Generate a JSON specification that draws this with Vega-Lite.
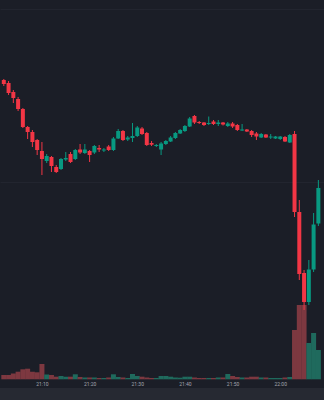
{
  "$schema": "https://vega.github.io/schema/vega-lite/v6.json",
  "width": 324,
  "height": 388,
  "autosize": {"type": "none"},
  "padding": {"left": 0, "right": 0, "top": 0, "bottom": 12},
  "background": "#262932",
  "config": {"view": {"fill": "#1b1e27", "stroke": null}, "font": "Roboto"},
  "data": {"values": [
    {"t": "2024-01-05T21:02:00", "o": 42.0, "h": 42.1, "l": 41.4, "c": 41.6, "v": 4300},
    {"t": "2024-01-05T21:03:00", "o": 41.7, "h": 41.9, "l": 40.5, "c": 40.7, "v": 4300},
    {"t": "2024-01-05T21:04:00", "o": 40.8, "h": 41.0, "l": 39.7, "c": 40.2, "v": 5800},
    {"t": "2024-01-05T21:05:00", "o": 40.1, "h": 40.3, "l": 38.9, "c": 39.1, "v": 7600},
    {"t": "2024-01-05T21:06:00", "o": 39.1, "h": 39.2, "l": 37.2, "c": 37.3, "v": 10000},
    {"t": "2024-01-05T21:07:00", "o": 37.3, "h": 37.4, "l": 36.1, "c": 36.8, "v": 10600},
    {"t": "2024-01-05T21:08:00", "o": 36.8, "h": 37.0, "l": 35.3, "c": 35.8, "v": 7600},
    {"t": "2024-01-05T21:09:00", "o": 36.0, "h": 36.1, "l": 34.5, "c": 35.0, "v": 7000},
    {"t": "2024-01-05T21:10:00", "o": 34.9, "h": 35.8, "l": 32.5, "c": 34.1, "v": 15300},
    {"t": "2024-01-05T21:11:00", "o": 33.9, "h": 34.6, "l": 33.7, "c": 34.4, "v": 4800},
    {"t": "2024-01-05T21:12:00", "o": 34.3, "h": 34.4, "l": 32.8, "c": 33.4, "v": 4300},
    {"t": "2024-01-05T21:13:00", "o": 33.3, "h": 33.5, "l": 32.7, "c": 32.8, "v": 2600},
    {"t": "2024-01-05T21:14:00", "o": 33.1, "h": 34.2, "l": 33.0, "c": 34.1, "v": 3300},
    {"t": "2024-01-05T21:15:00", "o": 34.05, "h": 34.8, "l": 33.9, "c": 34.2, "v": 2600},
    {"t": "2024-01-05T21:16:00", "o": 34.6, "h": 34.8, "l": 33.7, "c": 33.8, "v": 2600},
    {"t": "2024-01-05T21:17:00", "o": 34.1, "h": 35.1, "l": 34.0, "c": 35.0, "v": 5000},
    {"t": "2024-01-05T21:18:00", "o": 35.05, "h": 35.6, "l": 34.6, "c": 34.75, "v": 2300},
    {"t": "2024-01-05T21:19:00", "o": 34.7, "h": 35.6, "l": 34.6, "c": 35.05, "v": 1800},
    {"t": "2024-01-05T21:20:00", "o": 34.9, "h": 35.0, "l": 33.8, "c": 34.5, "v": 1800},
    {"t": "2024-01-05T21:21:00", "o": 34.75, "h": 35.5, "l": 34.6, "c": 35.4, "v": 1800},
    {"t": "2024-01-05T21:22:00", "o": 35.2, "h": 35.5, "l": 34.8, "c": 35.05, "v": 1300},
    {"t": "2024-01-05T21:23:00", "o": 34.95, "h": 35.2, "l": 34.8, "c": 35.05, "v": 1300},
    {"t": "2024-01-05T21:24:00", "o": 35.35, "h": 35.5, "l": 34.9, "c": 35.0, "v": 1800},
    {"t": "2024-01-05T21:25:00", "o": 35.0, "h": 36.3, "l": 34.9, "c": 36.15, "v": 5000},
    {"t": "2024-01-05T21:26:00", "o": 36.15, "h": 37.1, "l": 36.1, "c": 36.9, "v": 2300},
    {"t": "2024-01-05T21:27:00", "o": 36.9, "h": 37.0, "l": 35.9, "c": 36.0, "v": 1800},
    {"t": "2024-01-05T21:28:00", "o": 36.05, "h": 36.4, "l": 35.9, "c": 36.25, "v": 1300},
    {"t": "2024-01-05T21:29:00", "o": 36.2, "h": 37.7, "l": 35.8, "c": 36.4, "v": 5300},
    {"t": "2024-01-05T21:30:00", "o": 36.4, "h": 37.4, "l": 36.3, "c": 37.25, "v": 3300},
    {"t": "2024-01-05T21:31:00", "o": 37.15, "h": 37.3, "l": 36.5, "c": 36.6, "v": 2600},
    {"t": "2024-01-05T21:32:00", "o": 36.7, "h": 36.8, "l": 35.4, "c": 35.5, "v": 1800},
    {"t": "2024-01-05T21:33:00", "o": 35.7, "h": 35.9, "l": 35.4, "c": 35.53, "v": 1300},
    {"t": "2024-01-05T21:34:00", "o": 35.4, "h": 35.6, "l": 35.3, "c": 35.5, "v": 1300},
    {"t": "2024-01-05T21:35:00", "o": 35.05, "h": 35.8, "l": 34.5, "c": 35.65, "v": 3300},
    {"t": "2024-01-05T21:36:00", "o": 35.6, "h": 36.0, "l": 35.5, "c": 35.9, "v": 3300},
    {"t": "2024-01-05T21:37:00", "o": 35.85, "h": 36.4, "l": 35.8, "c": 36.25, "v": 2600},
    {"t": "2024-01-05T21:38:00", "o": 36.2, "h": 36.8, "l": 36.1, "c": 36.7, "v": 1800},
    {"t": "2024-01-05T21:39:00", "o": 36.65, "h": 37.1, "l": 36.6, "c": 37.0, "v": 1600},
    {"t": "2024-01-05T21:40:00", "o": 36.9, "h": 37.5, "l": 36.8, "c": 37.4, "v": 2600},
    {"t": "2024-01-05T21:41:00", "o": 37.35, "h": 38.3, "l": 37.3, "c": 38.15, "v": 2600},
    {"t": "2024-01-05T21:42:00", "o": 38.4, "h": 38.5, "l": 37.6, "c": 37.75, "v": 1800},
    {"t": "2024-01-05T21:43:00", "o": 37.8, "h": 37.9, "l": 37.6, "c": 37.7, "v": 1300},
    {"t": "2024-01-05T21:44:00", "o": 37.75, "h": 37.8, "l": 37.4, "c": 37.5, "v": 1300},
    {"t": "2024-01-05T21:45:00", "o": 37.6, "h": 38.35, "l": 37.5, "c": 37.7, "v": 1300},
    {"t": "2024-01-05T21:46:00", "o": 37.85, "h": 38.0, "l": 37.5, "c": 37.6, "v": 1300},
    {"t": "2024-01-05T21:47:00", "o": 37.6, "h": 38.0, "l": 37.4, "c": 37.75, "v": 1800},
    {"t": "2024-01-05T21:48:00", "o": 37.75, "h": 37.8, "l": 37.45, "c": 37.55, "v": 1800},
    {"t": "2024-01-05T21:49:00", "o": 37.4, "h": 37.8, "l": 37.3, "c": 37.65, "v": 5300},
    {"t": "2024-01-05T21:50:00", "o": 37.65, "h": 37.8, "l": 37.2, "c": 37.35, "v": 3300},
    {"t": "2024-01-05T21:51:00", "o": 37.5, "h": 37.6, "l": 36.9, "c": 37.0, "v": 2300},
    {"t": "2024-01-05T21:52:00", "o": 36.95, "h": 37.6, "l": 36.9, "c": 37.05, "v": 1800},
    {"t": "2024-01-05T21:53:00", "o": 37.05, "h": 37.1, "l": 36.8, "c": 36.85, "v": 1800},
    {"t": "2024-01-05T21:54:00", "o": 36.9, "h": 37.0, "l": 36.3, "c": 36.5, "v": 2600},
    {"t": "2024-01-05T21:55:00", "o": 36.65, "h": 36.8, "l": 36.0, "c": 36.35, "v": 2600},
    {"t": "2024-01-05T21:56:00", "o": 36.25, "h": 36.7, "l": 36.2, "c": 36.6, "v": 1800},
    {"t": "2024-01-05T21:57:00", "o": 36.55, "h": 36.6, "l": 36.2, "c": 36.25, "v": 1800},
    {"t": "2024-01-05T21:58:00", "o": 36.25, "h": 36.6, "l": 36.1, "c": 36.35, "v": 1300},
    {"t": "2024-01-05T21:59:00", "o": 36.15, "h": 36.4, "l": 36.1, "c": 36.35, "v": 1300},
    {"t": "2024-01-05T22:00:00", "o": 36.1, "h": 36.4, "l": 36.0, "c": 36.35, "v": 1300},
    {"t": "2024-01-05T22:01:00", "o": 36.3, "h": 36.4, "l": 35.8, "c": 35.85, "v": 1800},
    {"t": "2024-01-05T22:02:00", "o": 35.75, "h": 36.6, "l": 35.7, "c": 36.5, "v": 2300},
    {"t": "2024-01-05T22:03:00", "o": 36.6, "h": 36.9, "l": 28.3, "c": 28.8, "v": 49300},
    {"t": "2024-01-05T22:04:00", "o": 28.8, "h": 30.0, "l": 22.0, "c": 22.6, "v": 74300},
    {"t": "2024-01-05T22:05:00", "o": 22.7, "h": 23.0, "l": 19.0, "c": 19.8, "v": 74300},
    {"t": "2024-01-05T22:06:00", "o": 19.8, "h": 24.0, "l": 19.5, "c": 23.05, "v": 36300},
    {"t": "2024-01-05T22:07:00", "o": 23.05, "h": 28.7, "l": 22.8, "c": 27.55, "v": 46300},
    {"t": "2024-01-05T22:08:00", "o": 27.65, "h": 32.0, "l": 27.4, "c": 31.2, "v": 29300}
  ]},
  "encoding": {
    "x": {
      "field": "t",
      "type": "temporal",
      "scale": {"domain": [
        {"year": 2024, "month": 1, "date": 5, "hours": 21, "minutes": 2, "seconds": 15},
        {"year": 2024, "month": 1, "date": 5, "hours": 22, "minutes": 8, "seconds": 8}
      ]},
      "axis": {
        "values": [
          {"year": 2024, "month": 1, "date": 5, "hours": 21, "minutes": 10},
          {"year": 2024, "month": 1, "date": 5, "hours": 21, "minutes": 20},
          {"year": 2024, "month": 1, "date": 5, "hours": 21, "minutes": 30},
          {"year": 2024, "month": 1, "date": 5, "hours": 21, "minutes": 40},
          {"year": 2024, "month": 1, "date": 5, "hours": 21, "minutes": 50},
          {"year": 2024, "month": 1, "date": 5, "hours": 22, "minutes": 0}
        ],
        "format": "%H:%M",
        "labelFontSize": 5,
        "labelColor": "#a3a6af",
        "labelPadding": -5,
        "labelBaseline": "middle",
        "labelFlush": false,
        "labelOverlap": false,
        "domain": false,
        "ticks": false,
        "grid": false,
        "title": null
      }
    }
  },
  "layer": [
    {
      "mark": {"type": "bar", "size": 5, "clip": true},
      "encoding": {
        "y": {"field": "v", "type": "quantitative", "scale": {"domain": [-8700, 379300], "nice": false, "zero": false}, "axis": null},
        "y2": {"datum": 0},
        "color": {"condition": {"test": "datum.c >= datum.o", "value": "#1f6a5d"}, "value": "#7d3840"}
      }
    },
    {
      "mark": {"type": "rule", "clip": true, "strokeWidth": 1},
      "encoding": {
        "y": {"field": "l", "type": "quantitative", "scale": {"domain": [11.2, 50], "nice": false, "zero": false},
          "axis": {"orient": "right", "values": [31.8, 49.1], "grid": true, "gridColor": "#22252f", "gridWidth": 1, "labels": false, "ticks": false, "domain": false, "title": null}},
        "y2": {"field": "h"},
        "color": {"condition": {"test": "datum.c >= datum.o", "value": "#089981"}, "value": "#f23645"}
      }
    },
    {
      "mark": {"type": "bar", "size": 4, "clip": true},
      "encoding": {
        "y": {"field": "o", "type": "quantitative", "scale": {"domain": [11.2, 50], "nice": false, "zero": false}, "axis": null},
        "y2": {"field": "c"},
        "color": {"condition": {"test": "datum.c >= datum.o", "value": "#089981"}, "value": "#f23645"}
      }
    }
  ],
  "resolve": {"scale": {"y": "independent"}}
}
